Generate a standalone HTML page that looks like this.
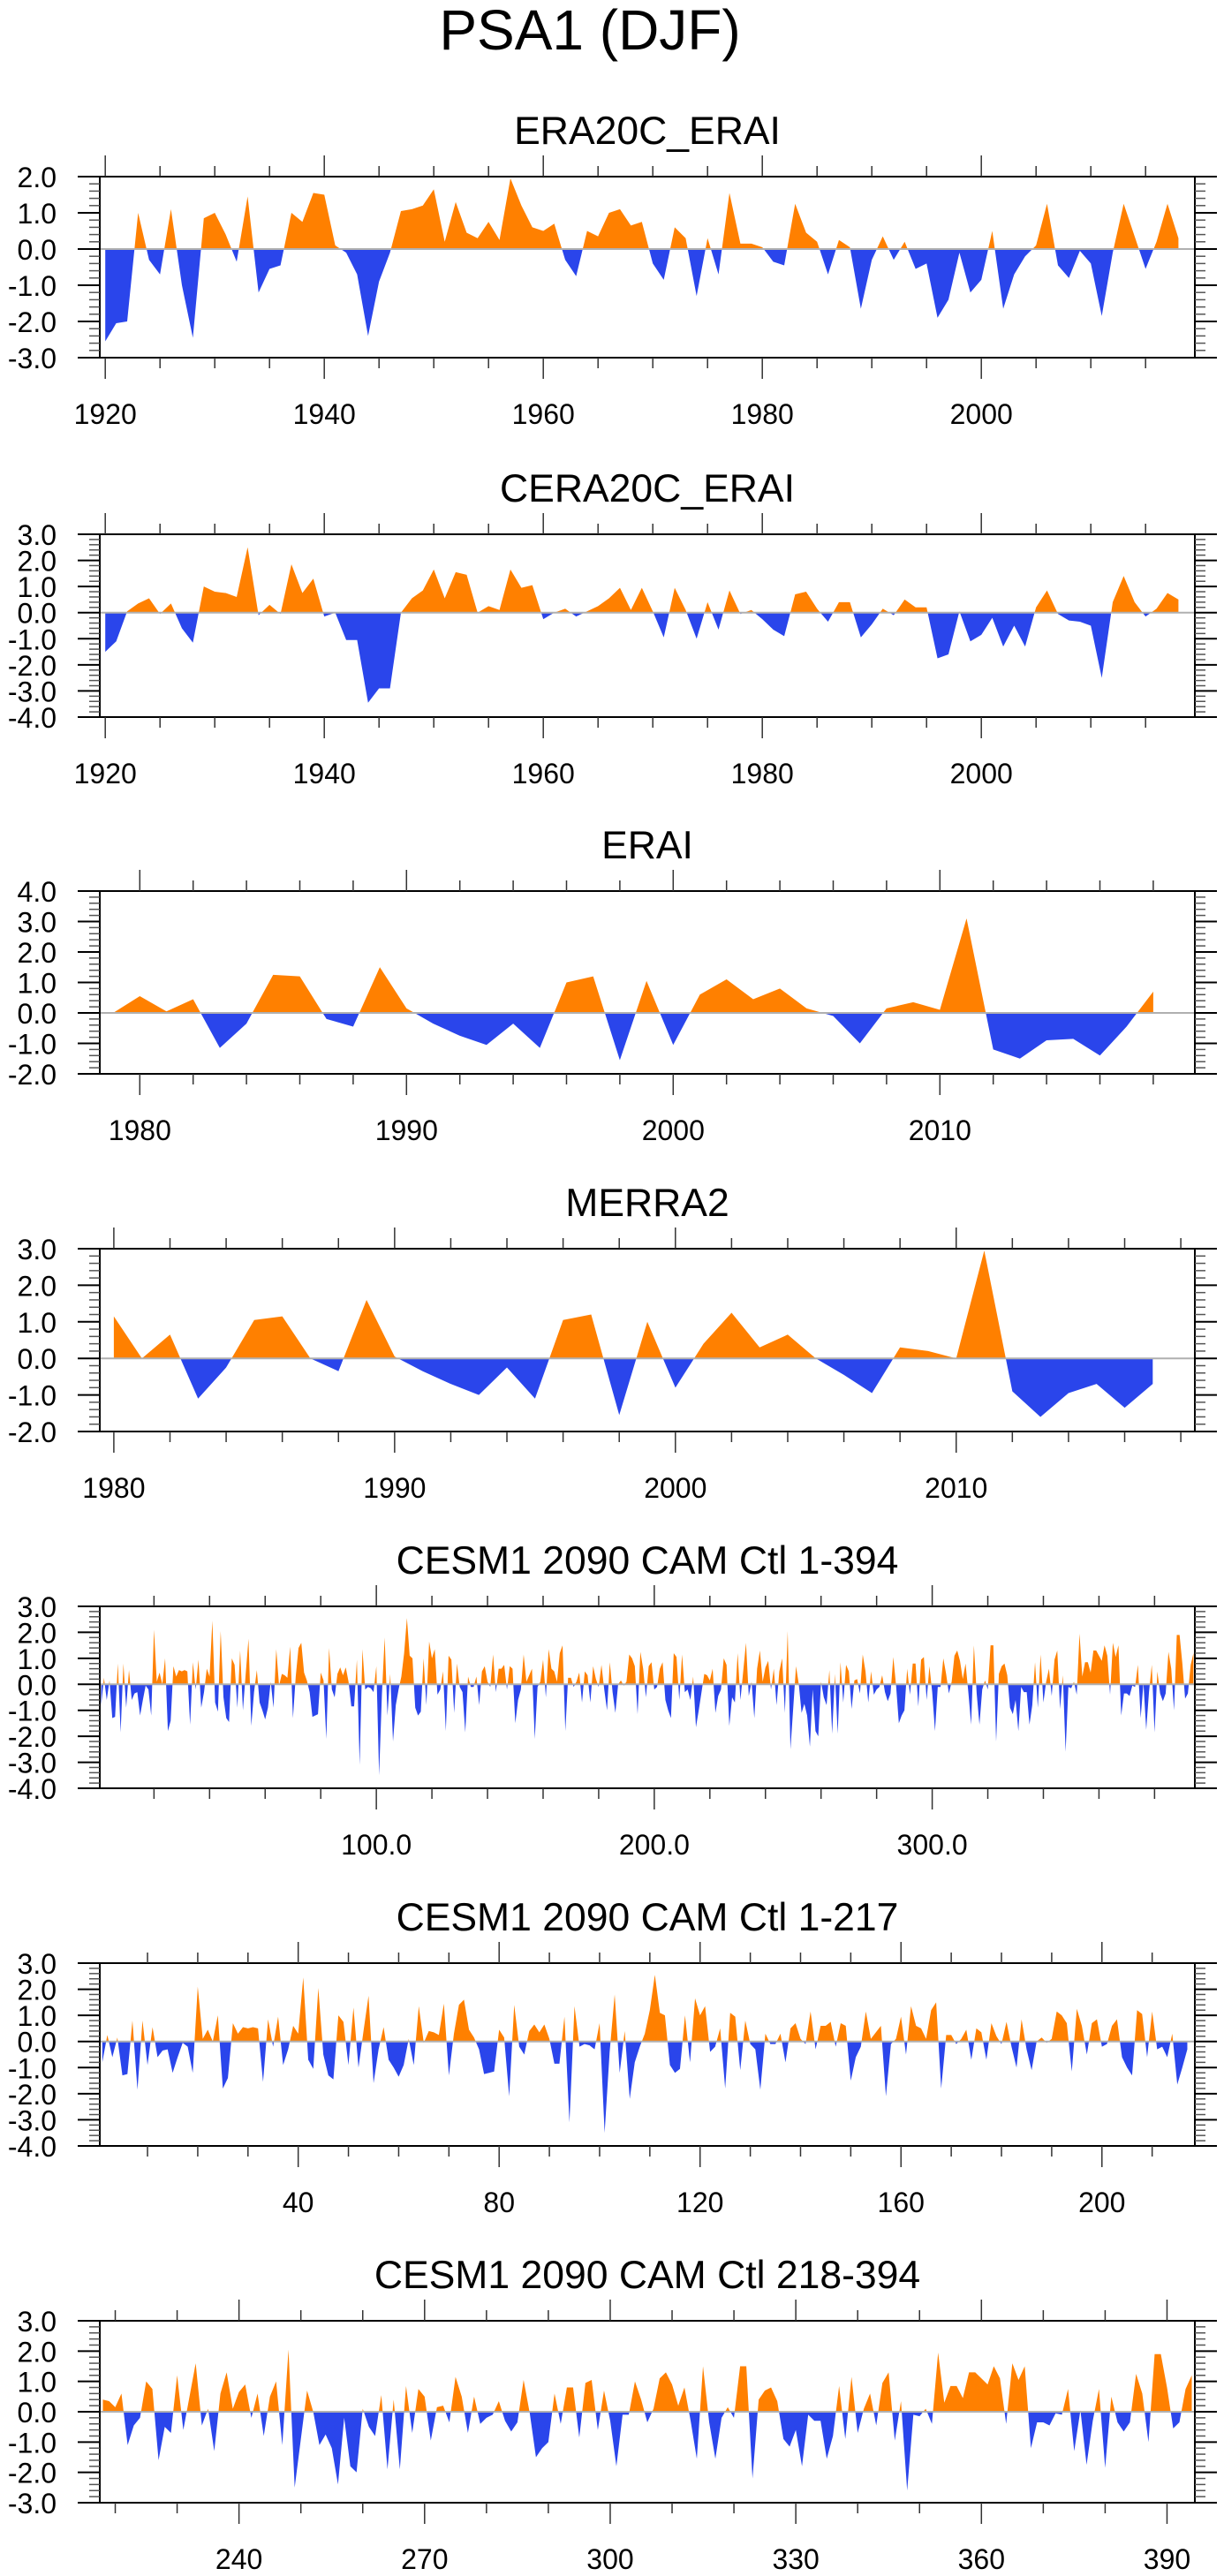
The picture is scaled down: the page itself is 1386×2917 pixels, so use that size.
<!DOCTYPE html>
<html><head><meta charset="utf-8"><title>PSA1 (DJF)</title>
<style>
html,body{margin:0;padding:0;background:#fff;}
svg{display:block;font-family:"Liberation Sans",Arial,sans-serif;}
</style></head>
<body>
<svg id="fig" width="1386" height="2917" viewBox="0 0 1386 2917" xmlns="http://www.w3.org/2000/svg">
<rect x="0" y="0" width="1386" height="2917" fill="#fff"/>
<text x="668" y="56" font-size="64" text-anchor="middle" fill="#000">PSA1 (DJF)</text>
</svg>
<script>
// ---- data ----
const era20cYears0 = 1920;
const era20cValues = [-2.55,-2.05,-2.0,1.0,-0.3,-0.7,1.1,-1.0,-2.45,0.85,
 1.0,0.4,-0.35,1.45,-1.2,-0.55,-0.45,1.0,0.75,1.55,
 1.5,0.1,-0.1,-0.7,-2.4,-0.9,-0.1,1.05,1.1,1.2,
 1.65,0.2,1.3,0.45,0.3,0.75,0.25,1.95,1.2,0.6,
 0.5,0.7,-0.3,-0.75,0.5,0.35,1.0,1.1,0.65,0.75,
 -0.4,-0.85,0.6,0.3,-1.3,0.3,-0.7,1.55,0.15,0.15,
 0.05,-0.35,-0.45,1.25,0.45,0.2,-0.7,0.25,0.05,-1.65,
 -0.3,0.35,-0.3,0.2,-0.55,-0.4,-1.9,-1.4,-0.1,-1.2,
 -0.85,0.5,-1.65,-0.7,-0.2,0.1,1.25,-0.45,-0.8,-0.05,
 -0.4,-1.85,-0.1,1.25,0.35,-0.55,0.2,1.25,0.3];
const cera20cValues = [-1.5,-1.1,0.05,0.35,0.55,-0.05,0.35,-0.6,-1.15,1.0,
 0.8,0.75,0.6,2.5,-0.1,0.3,-0.05,1.85,0.75,1.3,
 -0.15,0.0,-1.05,-1.05,-3.45,-2.9,-2.9,0.0,0.55,0.85,
 1.65,0.55,1.55,1.45,0.0,0.25,0.1,1.65,0.95,1.05,
 -0.25,0.0,0.15,-0.15,0.05,0.25,0.55,0.95,0.1,0.95,
 0.05,-0.95,0.95,0.1,-1.0,0.4,-0.65,0.85,-0.05,0.1,
 -0.25,-0.65,-0.9,0.7,0.8,0.15,-0.35,0.4,0.4,-0.95,
 -0.45,0.15,-0.1,0.5,0.2,0.2,-1.75,-1.6,0.05,-1.1,
 -0.85,-0.2,-1.3,-0.5,-1.3,0.2,0.85,-0.05,-0.3,-0.35,
 -0.5,-2.5,0.4,1.4,0.4,-0.15,0.15,0.75,0.5];
const eraiYears0 = 1979;
const eraiValues = [0.0,0.55,0.05,0.45,-1.15,-0.35,1.25,1.2,-0.2,-0.45,
 1.5,0.15,-0.35,-0.75,-1.05,-0.35,-1.15,1.0,1.2,-1.55,
 1.05,-1.05,0.6,1.1,0.45,0.8,0.15,-0.1,-1.0,0.15,
 0.35,0.1,3.1,-1.2,-1.5,-0.9,-0.85,-1.4,-0.45,0.7];
const merra2Years0 = 1980;
const merra2Values = [1.15,0.0,0.65,-1.1,-0.25,1.05,1.15,0.0,-0.35,1.6,
 0.05,-0.35,-0.7,-1.0,-0.25,-1.1,1.05,1.2,-1.55,1.0,
 -0.8,0.4,1.25,0.3,0.65,0.0,-0.45,-0.95,0.3,0.2,
 0.0,2.95,-0.9,-1.6,-0.95,-0.7,-1.35,-0.7];
const cesmPart1 = [-0.8,0.25,-0.6,0.15,-1.3,-1.25,0.8,-1.85,0.8,-0.9,
 0.55,-0.6,-0.35,-0.3,-1.2,-0.6,-0.05,-0.2,-1.2,2.1,
 0.1,0.45,0.0,1.0,-1.8,-1.4,0.7,0.3,0.55,0.5,
 0.55,0.5,-1.55,0.85,-0.2,0.95,-0.9,-0.3,0.6,0.3,
 2.45,-0.7,-1.05,2.05,-0.5,-1.3,-1.45,1.0,0.75,-0.9,
 1.3,-1.0,0.4,1.75,-1.6,-0.3,0.55,-0.7,-1.0,-1.35,
 -0.9,0.1,-0.9,1.35,-0.05,0.4,0.35,0.25,1.45,-1.3,
 0.3,1.4,1.6,0.45,0.15,-0.3,-1.25,-1.2,-1.15,0.45,
 0.15,-2.1,1.4,-0.2,-0.5,0.4,0.65,0.35,0.65,0.1,
 -0.85,-0.85,0.95,-3.1,1.35,-0.2,-0.1,-0.15,-0.3,0.7,
 -3.5,-0.4,1.8,-1.2,0.4,-2.2,-0.8,-0.2,0.3,1.2,
 2.55,1.1,1.0,-0.9,-1.2,-1.05,1.0,-0.8,1.65,1.0,
 1.35,-0.4,-0.2,0.5,-1.8,1.1,0.95,-1.1,0.8,-0.1,
 -0.3,-1.85,0.3,-0.1,-0.1,0.3,-0.8,0.5,0.7,0.1,
 -0.1,1.15,-0.3,0.6,0.6,0.75,-0.2,0.7,0.6,-1.5,
 -0.6,-0.2,1.15,0.1,0.35,0.6,-2.1,-0.1,0.1,0.95,
 -0.5,1.35,0.6,0.5,0.1,1.2,1.5,-1.8,0.25,0.25,
 -0.1,0.1,0.45,-0.7,0.5,0.35,-0.7,0.7,0.2,-0.1,
 0.75,-0.2,-1.0,0.85,-0.3,-1.1,0.0,0.15,-0.05,0.1,
 1.15,1.0,0.7,-1.15,1.25,0.6,-0.5,0.7,0.85,-0.2,
 -0.1,0.6,0.85,-0.6,-1.0,-1.3,1.2,1.05,-0.6,1.15,
 -0.3,-0.2,-0.6,0.3,-1.65,-1.0,-0.3];
const cesmPart2 = [0.4,0.35,0.15,0.6,-1.1,-0.45,-0.2,1.0,0.75,-1.6,
 -0.5,-0.7,1.2,-0.6,0.5,1.6,-0.45,0.1,-1.3,0.6,
 1.3,0.1,0.65,0.9,-0.2,0.6,-0.8,0.5,1.0,-1.1,
 2.05,-2.5,-0.9,0.7,0.0,-1.1,-0.75,-1.2,-2.4,-0.2,
 -1.8,-2.0,0.1,-0.5,-0.8,0.55,-1.9,0.4,-1.9,0.85,
 -0.7,0.75,0.5,-0.95,0.15,0.2,-0.35,1.15,0.5,-0.7,
 0.5,-0.4,-0.2,-0.1,0.35,-0.3,-0.65,-0.35,1.05,-0.05,
 -1.5,-1.2,-1.0,0.6,-0.4,0.8,0.8,-0.85,0.95,1.05,
 -0.6,0.7,-0.3,-1.8,-0.1,-0.1,1.0,0.4,-0.35,0.1,
 1.1,1.3,0.9,0.2,0.8,-0.3,-1.55,1.5,-0.35,-1.55,
 -0.2,0.15,-0.2,1.5,1.5,-2.2,0.4,0.7,0.8,0.35,
 -0.9,-1.15,-0.6,-1.8,-0.1,-0.3,-0.3,-1.55,-0.8,0.85,
 -0.9,1.15,-0.7,0.1,0.6,-0.45,0.95,1.3,-0.95,0.35,
 -2.6,-0.1,-0.15,0.1,-0.4,1.95,0.3,0.85,0.85,0.45,
 1.3,1.3,1.1,0.9,1.5,1.1,-0.4,1.6,1.05,1.5,
 -1.2,-0.35,-0.35,-0.45,-0.05,-0.1,0.75,-1.3,0.05,-1.75,
 -0.3,0.75,-1.85,0.5,-0.35,-0.65,-0.35,1.25,0.6,-1.0,
 1.9,1.9,0.8,-0.55,-0.35,0.75,1.2];
const cesmAll = cesmPart1.concat(cesmPart2);
const yTicksA = [-3,-2,-1,0,1,2];

// ---- rendering ----
const NS = 'http://www.w3.org/2000/svg';
const svg = document.getElementById('fig');
const ORANGE = '#ff8000', BLUE = '#2a45eb';
function el(tag, attrs, parent){
  const e = document.createElementNS(NS, tag);
  for (const k in attrs) e.setAttribute(k, attrs[k]);
  (parent||svg).appendChild(e);
  return e;
}
function fmtY(v){ return v.toFixed(1); }

function panel(cfg){
  const g = el('g', {});
  
  
  const L = 113, R = 1353, T = cfg.top, B = cfg.bottom;
  const sx = v => L + (v - cfg.xmin) / (cfg.xmax - cfg.xmin) * (R - L);
  const sy = v => B - (v - cfg.ymin) / (cfg.ymax - cfg.ymin) * (B - T);
  // title
  const t = el('text', {x: 733, y: T - 37, 'font-size': 44.5, 'text-anchor': 'middle', fill: '#000'}, g);
  
  
  t.textContent = cfg.title;
  // fills
  const pts = cfg.values.map((v, i) => [cfg.x0 + i, v]);
  const segs = [];
  for (let i = 0; i < pts.length; i++) {
    segs.push(pts[i]);
    if (i < pts.length - 1) {
      const a = pts[i], b = pts[i+1];
      if ((a[1] > 0 && b[1] < 0) || (a[1] < 0 && b[1] > 0)) {
        const f = a[1] / (a[1] - b[1]);
        segs.push([a[0] + f * (b[0] - a[0]), 0]);
      }
    }
  }
  const x0 = sx(segs[0][0]), x1 = sx(segs[segs.length-1][0]), y0 = sy(0);
  let dp = 'M' + x0 + ',' + y0, dn = 'M' + x0 + ',' + y0;
  segs.forEach(p => {
    dp += 'L' + sx(p[0]).toFixed(2) + ',' + sy(Math.max(p[1], 0)).toFixed(2);
    dn += 'L' + sx(p[0]).toFixed(2) + ',' + sy(Math.min(p[1], 0)).toFixed(2);
  });
  dp += 'L' + x1 + ',' + y0 + 'Z'; dn += 'L' + x1 + ',' + y0 + 'Z';
  const pp = el('path', {d: dp, fill: ORANGE}, g);
  
  
  const pn = el('path', {d: dn, fill: BLUE}, g);
  
  
  // zero line
  const zl = el('line', {x1: L, x2: R, y1: y0, y2: y0, stroke: '#b0b0b0', 'stroke-width': 2}, g);
  
  
  // frame
  const fr = el('rect', {x: L, y: T, width: R - L, height: B - T, fill: 'none', stroke: '#000', 'stroke-width': 2}, g);
  
  
  // y ticks
  for (let v = cfg.ymin; v <= cfg.ymax + 1e-6; v += 1) {
    const y = sy(v);
    el('line', {x1: 88, x2: L, y1: y, y2: y, stroke: '#000', 'stroke-width': 2}, g);
    el('line', {x1: R, x2: 1378, y1: y, y2: y, stroke: '#000', 'stroke-width': 2}, g);
    const lb = el('text', {x: 64, y: y + 12, 'font-size': 32, 'text-anchor': 'end', fill: '#000'}, g);
    
    
    lb.textContent = fmtY(v);
    if (v < cfg.ymax - 1e-6) {
      for (let k = 1; k < 5; k++) {
        const ym = sy(v + k * 0.2);
        el('line', {x1: 101, x2: L, y1: ym, y2: ym, stroke: '#555', 'stroke-width': 1.5}, g);
        el('line', {x1: R, x2: 1365, y1: ym, y2: ym, stroke: '#555', 'stroke-width': 1.5}, g);
      }
    }
  }
  // x ticks
  const start = Math.ceil(cfg.xmin / cfg.minor) * cfg.minor;
  for (let v = start; v <= cfg.xmax; v += cfg.minor) {
    const x = sx(v);
    const major = Math.abs(v / cfg.major - Math.round(v / cfg.major)) < 1e-6;
    const len = major ? 24 : 12;
    el('line', {x1: x, x2: x, y1: T - len, y2: T, stroke: '#333', 'stroke-width': 1.5}, g);
    el('line', {x1: x, x2: x, y1: B, y2: B + len, stroke: '#333', 'stroke-width': 1.5}, g);
    if (major) {
      const lb = el('text', {x: x, y: B + 75, 'font-size': 32, 'text-anchor': 'middle', fill: '#000'}, g);
      
      
      lb.textContent = cfg.fmt ? cfg.fmt(v) : String(v);
    }
  }
}

panel({name: 'era20c-erai-panel', title: 'ERA20C_ERAI', top: 200, bottom: 405, xmin: 1919.5, xmax: 2019.5, ymin: -3, ymax: 2, x0: era20cYears0, values: era20cValues, major: 20, minor: 5});
panel({name: 'cera20c-erai-panel', title: 'CERA20C_ERAI', top: 605, bottom: 812, xmin: 1919.5, xmax: 2019.5, ymin: -4, ymax: 3, x0: era20cYears0, values: cera20cValues, major: 20, minor: 5});
panel({name: 'erai-panel', title: 'ERAI', top: 1009, bottom: 1216, xmin: 1978.5, xmax: 2019.56, ymin: -2, ymax: 4, x0: eraiYears0, values: eraiValues, major: 10, minor: 2});
panel({name: 'merra2-panel', title: 'MERRA2', top: 1414, bottom: 1621, xmin: 1979.5, xmax: 2018.5, ymin: -2, ymax: 3, x0: merra2Years0, values: merra2Values, major: 10, minor: 2});
panel({name: 'cesm-1-394-panel', title: 'CESM1 2090 CAM Ctl 1-394', top: 1819, bottom: 2025, xmin: 0.5, xmax: 394.5, ymin: -4, ymax: 3, x0: 1, values: cesmAll, major: 100, minor: 20, fmt: v => v.toFixed(1)});
panel({name: 'cesm-1-217-panel', title: 'CESM1 2090 CAM Ctl 1-217', top: 2223, bottom: 2430, xmin: 0.5, xmax: 218.5, ymin: -4, ymax: 3, x0: 1, values: cesmPart1, major: 40, minor: 10});
panel({name: 'cesm-218-394-panel', title: 'CESM1 2090 CAM Ctl 218-394', top: 2628, bottom: 2834, xmin: 217.5, xmax: 394.5, ymin: -3, ymax: 3, x0: 218, values: cesmPart2, major: 30, minor: 10});
</script>
</body></html>
